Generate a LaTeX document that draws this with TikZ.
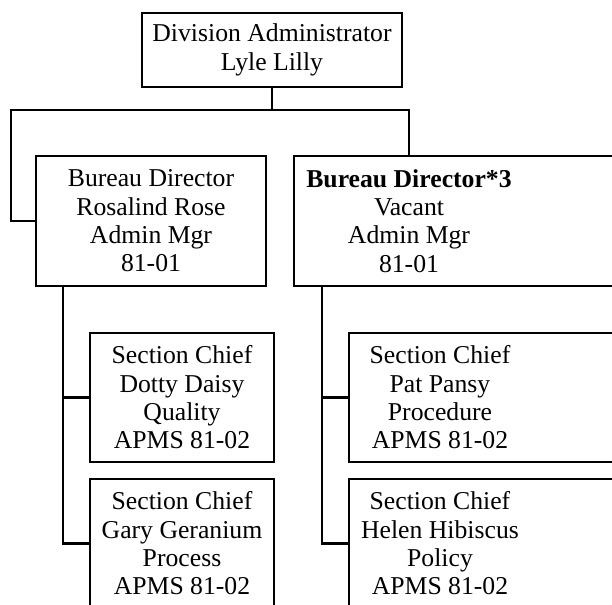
\documentclass[tikz,border=0pt]{standalone}
\usepackage{fontspec}
\setmainfont{Liberation Serif}
\begin{document}
\begin{tikzpicture}[x=1pt,y=-1pt,
  txt/.style={inner sep=0pt, align=center,
    font=\fontsize{25.7}{28.3}\selectfont},
  box/.style={txt, draw, line width=2pt},
  holder/.style={txt},
  edge/.style={line width=2pt},
  conn/.style={line width=2.6pt, line cap=rect}]
\useasboundingbox (0,0) rectangle (612,604);

% division level
\node[box, minimum width=260pt, minimum height=74pt] (top) at (272,50)
  {Division Administrator\\Lyle Lilly};

% bureau level
\node[box, minimum width=230pt, minimum height=130pt] (bl) at (151,221)
  {Bureau Director\\Rosalind Rose\\Admin Mgr\\81-01};
\node[holder, minimum width=230pt, minimum height=130pt] (br) at (409,221)
  {\textbf{Bureau Director*3}\\Vacant\\Admin Mgr\\81-01};
\draw[edge] (br.north west) rectangle ([xshift=120pt]br.south east);

% section level, left bureau
\node[box, minimum width=184pt, minimum height=129pt] (s1) at (182,397.5)
  {Section Chief\\Dotty Daisy\\Quality\\APMS 81-02};
\node[box, minimum width=184pt, minimum height=129pt] (s2) at (182,543.5)
  {Section Chief\\Gary Geranium\\Process\\APMS 81-02};

% section level, right bureau
\node[holder, minimum width=182pt, minimum height=129pt] (s3) at (440,397.5)
  {Section Chief\\Pat Pansy\\Procedure\\APMS 81-02};
\draw[edge] (s3.north west) rectangle ([xshift=120pt]s3.south east);
\node[holder, minimum width=182pt, minimum height=129pt] (s4) at (440,543.5)
  {Section Chief\\Helen Hibiscus\\Policy\\APMS 81-02};
\draw[edge] (s4.north west) rectangle ([xshift=120pt]s4.south east);

% connectors
\coordinate (busL) at (11,110);
\coordinate (busR) at (409,110);
\draw[conn] (top.south) -- (top.south |- busL);
\draw[conn] (busL) -- (busR);
\draw[conn] (busL) |- (bl.west);
\draw[conn] (busR) -- (br.north);
\draw[conn] ([xshift=-88pt]bl.south) |- (s1.west);
\draw[conn] ([xshift=-88pt]bl.south) |- (s2.west);
\draw[conn] ([xshift=-87pt]br.south) |- (s3.west);
\draw[conn] ([xshift=-87pt]br.south) |- (s4.west);
\end{tikzpicture}
\end{document}
